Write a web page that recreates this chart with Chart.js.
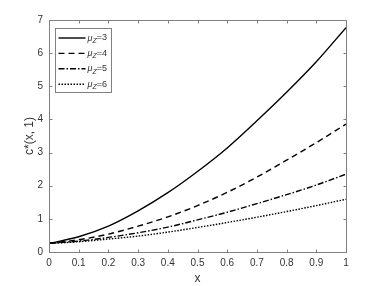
<!DOCTYPE html>
<html>
<head>
<meta charset="utf-8">
<script src="https://cdn.jsdelivr.net/npm/chart.js@4/dist/chart.umd.min.js"></script>
<style>
html,body{margin:0;padding:0;background:#fff;}
#wrap{width:382px;height:286px;position:relative;}
</style>
</head>
<body>
<div id="wrap"><canvas id="c" width="382" height="286"></canvas></div>
<script>
// ---- data ----
const xValues = [0, 0.1, 0.2, 0.3, 0.4, 0.5, 0.6, 0.7, 0.8, 0.9, 1.0];
const muZ = [3, 4, 5, 6];
const cMu3 = [0.26, 0.46, 0.78, 1.24, 1.79, 2.43, 3.14, 3.96, 4.82, 5.74, 6.77];
const cMu4 = [0.26, 0.37, 0.54, 0.78, 1.06, 1.40, 1.80, 2.26, 2.77, 3.30, 3.86];
const cMu5 = [0.26, 0.33, 0.44, 0.58, 0.75, 0.97, 1.20, 1.46, 1.73, 2.02, 2.35];
const cMu6 = [0.26, 0.31, 0.39, 0.48, 0.60, 0.74, 0.89, 1.05, 1.22, 1.40, 1.59];
const xTicks = [0, 0.1, 0.2, 0.3, 0.4, 0.5, 0.6, 0.7, 0.8, 0.9, 1];
const yTicks = [0, 1, 2, 3, 4, 5, 6, 7];

const seriesValues = [cMu3, cMu4, cMu5, cMu6];
const dashes = [[], [6, 4], [6, 2, 1.5, 2], [1.5, 1.5]];

const AXIS = '#808080';
const TXT = '#333333';
const FONT = '"Liberation Sans", Arial, Helvetica, sans-serif';

const datasets = seriesValues.map((vals, i) => ({
  label: 'μZ=' + muZ[i],
  mu: muZ[i],
  data: xValues.map((x, j) => ({x: x, y: vals[j]})),
  borderColor: '#000',
  borderWidth: 1.4,
  borderDash: dashes[i],
  pointRadius: 0,
  fill: false,
  cubicInterpolationMode: 'monotone'
}));

const framePlugin = {
  id: 'frame',
  afterDraw(chart) {
    const ctx = chart.ctx, a = chart.chartArea;
    const xs = chart.scales.x, ys = chart.scales.y;
    ctx.save();
    ctx.strokeStyle = AXIS;
    ctx.lineWidth = 1;
    ctx.setLineDash([]);
    const L = Math.round(a.left) + 0.5, R = Math.round(a.right) + 0.5;
    const T = Math.round(a.top) + 0.5, B = Math.round(a.bottom) + 0.5;
    ctx.strokeRect(L, T, R - L, B - T);
    const tl = 3;
    ctx.beginPath();
    xTicks.forEach(v => {
      const px = Math.round(xs.getPixelForValue(v)) + 0.5;
      ctx.moveTo(px, B); ctx.lineTo(px, B - tl);
      ctx.moveTo(px, T); ctx.lineTo(px, T + tl);
    });
    yTicks.forEach(v => {
      const py = Math.round(ys.getPixelForValue(v)) + 0.5;
      ctx.moveTo(L, py); ctx.lineTo(L + tl, py);
      ctx.moveTo(R, py); ctx.lineTo(R - tl, py);
    });
    ctx.stroke();

    // legend
    const x0 = Math.round(a.left) + 6.5, y0 = Math.round(a.top) + 8.5, w = 56, h = 64;
    ctx.fillStyle = '#fff';
    ctx.fillRect(x0, y0, w, h);
    ctx.strokeStyle = AXIS;
    ctx.strokeRect(x0, y0, w, h);
    chart.data.datasets.forEach((ds, i) => {
      const y = y0 + 9.5 + i * 15.4;
      ctx.strokeStyle = '#000';
      ctx.lineWidth = ds.borderWidth;
      ctx.setLineDash(ds.borderDash || []);
      ctx.beginPath();
      ctx.moveTo(x0 + 3, y); ctx.lineTo(x0 + 30, y);
      ctx.stroke();
      ctx.setLineDash([]);
      ctx.fillStyle = TXT;
      ctx.textBaseline = 'middle';
      ctx.textAlign = 'left';
      let tx = x0 + 32;
      ctx.font = 'italic 9px ' + FONT;
      ctx.fillText('μ', tx, y);
      tx += ctx.measureText('μ').width;
      ctx.font = 'italic 7px ' + FONT;
      ctx.fillText('Z', tx, y + 3);
      tx += ctx.measureText('Z').width;
      ctx.font = '9px ' + FONT;
      ctx.fillText('=' + ds.mu, tx, y);
    });
    ctx.restore();
  }
};

new Chart(document.getElementById('c'), {
  type: 'line',
  data: { datasets: datasets },
  options: {
    responsive: false,
    animation: false,
    devicePixelRatio: 1,
    layout: { padding: { left: 0, top: 20, right: 36, bottom: 0 } },
    plugins: { legend: { display: false }, tooltip: { enabled: false } },
    scales: {
      x: {
        type: 'linear', min: 0, max: 1,
        afterFit(s) { s.height = 34; },
        afterBuildTicks(s) { s.ticks = xTicks.map(v => ({value: v})); },
        grid: { display: false, drawTicks: false },
        border: { display: false },
        ticks: {
          color: TXT, padding: 5, maxRotation: 0, autoSkip: false,
          font: { family: FONT, size: 10 },
          callback: v => String(Math.round(v * 10) / 10)
        },
        title: { display: true, text: 'x', color: TXT, font: { family: FONT, size: 12 }, padding: { top: 0, bottom: 0 } }
      },
      y: {
        type: 'linear', min: 0, max: 7,
        afterFit(s) { s.width = 49; },
        afterBuildTicks(s) { s.ticks = yTicks.map(v => ({value: v})); },
        grid: { display: false, drawTicks: false },
        border: { display: false },
        ticks: {
          color: TXT, padding: 6, autoSkip: false,
          font: { family: FONT, size: 10 }
        },
        title: { display: true, text: 'c*(x, 1)', color: TXT, font: { family: FONT, size: 12 }, padding: { top: 22, bottom: 0 } }
      }
    }
  },
  plugins: [framePlugin]
});
</script>
</body>
</html>
